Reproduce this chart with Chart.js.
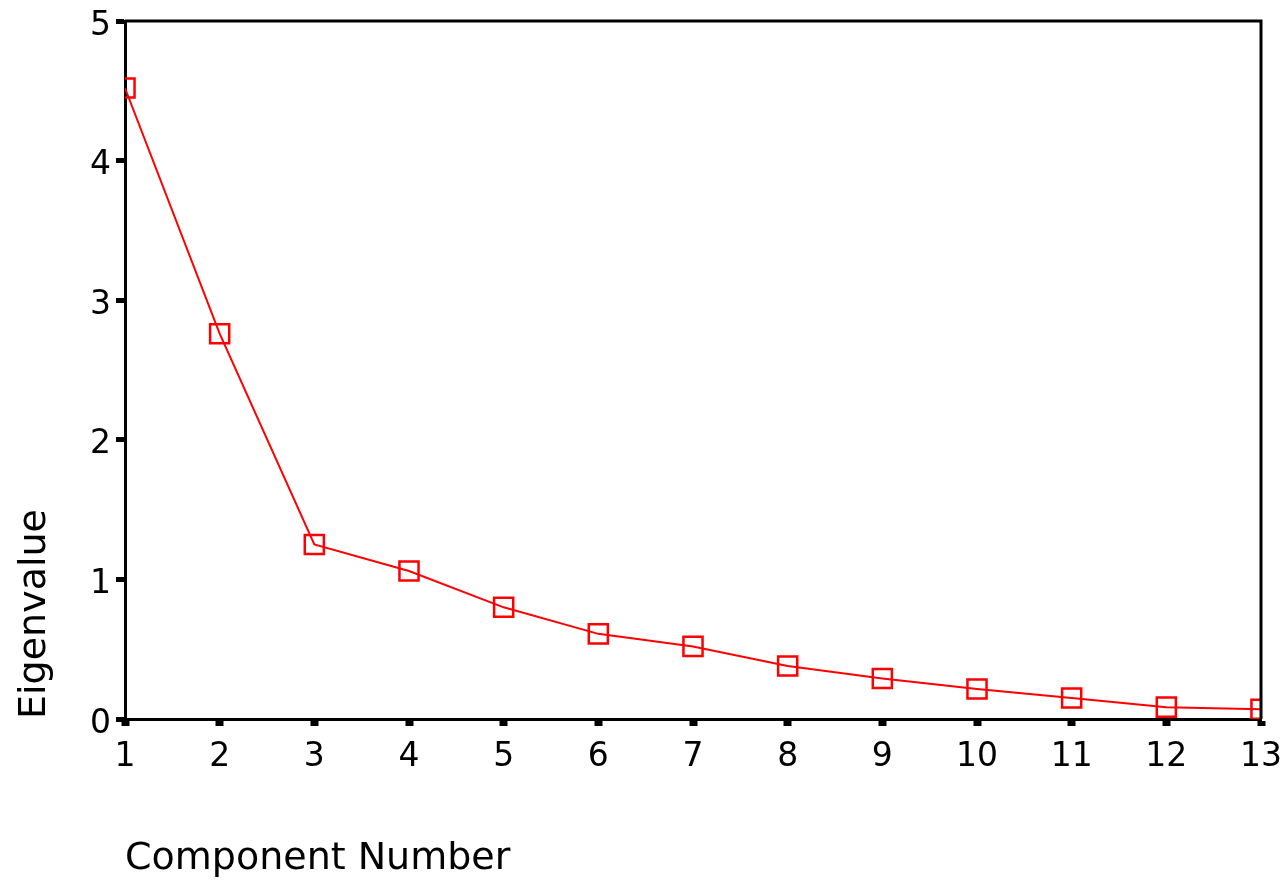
<!DOCTYPE html>
<html lang="en">
<head>
    <meta charset="UTF-8">
    <title>Scree Plot</title>
    <script src="https://cdn.jsdelivr.net/npm/chart.js@4.4.1/dist/chart.umd.min.js"></script>
    <style>
        * {
            margin: 0;
            padding: 0;
            box-sizing: border-box;
        }

        body {
            background-color: #ffffff;
        }

        .chart-container {
            width: 1286px;
            height: 885px;
        }
    </style>
</head>
<body>
    <div class="chart-container">
        <canvas id="screeChart"></canvas>
    </div>

    <script>
        // Data
        const components = ['1', '2', '3', '4', '5', '6', '7', '8', '9', '10', '11', '12', '13'];
        const eigenvalues = [4.52, 2.76, 1.25, 1.06, 0.80, 0.61, 0.52, 0.38, 0.29, 0.215, 0.15, 0.085, 0.07];
        const yTicks = [0, 1, 2, 3, 4, 5];

        Chart.defaults.font.family = "'DejaVu Sans', sans-serif";
        Chart.defaults.color = '#000000';

        // top and right frame lines
        const framePlugin = {
            id: 'frame',
            afterDraw(chart) {
                const { ctx, chartArea } = chart;
                ctx.save();
                ctx.strokeStyle = '#000000';
                ctx.lineWidth = 3;
                ctx.beginPath();
                ctx.moveTo(chartArea.left, chartArea.top);
                ctx.lineTo(chartArea.right, chartArea.top);
                ctx.lineTo(chartArea.right, chartArea.bottom);
                ctx.stroke();
                ctx.restore();
            }
        };

        function initChart() {
            const ctx = document.getElementById('screeChart').getContext('2d');
            new Chart(ctx, {
                type: 'line',
                data: {
                    labels: components,
                    datasets: [{
                        label: 'Eigenvalue',
                        data: eigenvalues,
                        borderColor: '#ff0000',
                        borderWidth: 2,
                        tension: 0,
                        fill: false,
                        clip: 0,
                        pointStyle: 'rect',
                        pointRadius: 13.5,
                        pointBorderWidth: 2.5,
                        pointBorderColor: '#ff0000',
                        pointBackgroundColor: 'rgba(0,0,0,0)'
                    }]
                },
                options: {
                    responsive: true,
                    maintainAspectRatio: false,
                    animation: false,
                    layout: {
                        padding: { top: 21, right: 25, left: 0, bottom: 0 }
                    },
                    scales: {
                        x: {
                            offset: false,
                            z: 1,
                            afterFit(scale) {
                                scale.height = 166;
                                scale.paddingLeft = 0;
                                scale.paddingRight = 0;
                            },
                            grid: {
                                drawOnChartArea: false,
                                tickLength: 7,
                                tickWidth: 8,
                                tickColor: '#000000'
                            },
                            border: { display: true, color: '#000000', width: 3 },
                            ticks: {
                                font: { size: 33 },
                                padding: 12,
                                maxRotation: 0,
                                autoSkip: false
                            },
                            title: {
                                display: true,
                                text: 'Component Number',
                                align: 'start',
                                font: { size: 38 },
                                padding: { top: 0, bottom: 3 }
                            }
                        },
                        y: {
                            min: 0,
                            max: 5,
                            z: 1,
                            afterFit(scale) {
                                scale.width = 125;
                                scale.paddingTop = 0;
                                scale.paddingBottom = 0;
                            },
                            afterBuildTicks(scale) {
                                scale.ticks = yTicks.map(v => ({ value: v }));
                            },
                            grid: {
                                drawOnChartArea: false,
                                tickLength: 9,
                                tickWidth: 5,
                                tickColor: '#000000'
                            },
                            border: { display: true, color: '#000000', width: 3 },
                            ticks: {
                                font: { size: 33 },
                                padding: 5,
                                labelOffset: 5
                            },
                            title: {
                                display: true,
                                text: 'Eigenvalue',
                                align: 'start',
                                font: { size: 38 },
                                padding: { top: 12, bottom: 0 }
                            }
                        }
                    },
                    plugins: {
                        legend: { display: false },
                        tooltip: { enabled: false }
                    }
                },
                plugins: [framePlugin]
            });
        }

        document.addEventListener('DOMContentLoaded', initChart);
    </script>
</body>
</html>
